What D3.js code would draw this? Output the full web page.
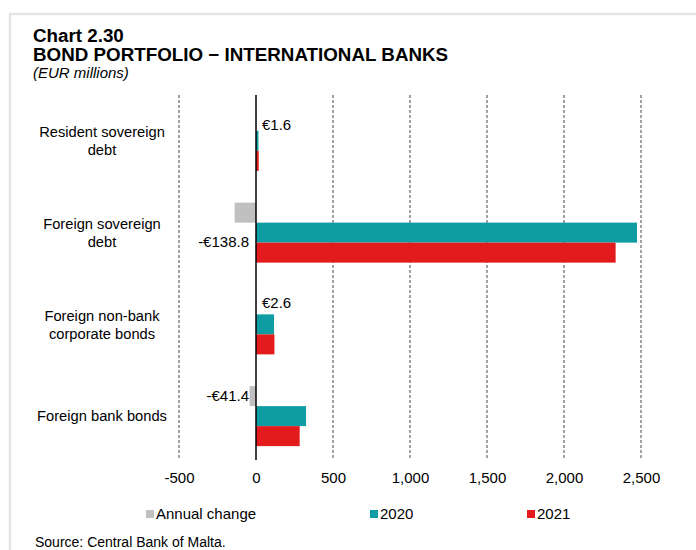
<!DOCTYPE html>
<html>
<head>
<meta charset="utf-8">
<script src="https://cdn.jsdelivr.net/npm/d3@7"></script>
<style>
  html, body { margin: 0; padding: 0; background: #fff; }
  svg { display: block; font-family: "Liberation Sans", Arial, sans-serif; }
</style>
</head>
<body>
<svg id="chart" width="696" height="550"></svg>
<script>
const categories = [
  ["Resident sovereign", "debt"],
  ["Foreign sovereign", "debt"],
  ["Foreign non-bank", "corporate bonds"],
  ["Foreign bank bonds"]
];
const seriesNames = ["Annual change", "2020", "2021"];
const annualChange = [1.6, -138.8, 2.6, -41.4];
const values2020 = [16, 2474, 117, 325];
const values2021 = [17.6, 2335.2, 119.6, 283.6];
const changeLabels = ["€1.6", "-€138.8", "€2.6", "-€41.4"];
const tickValues = [-500, 0, 500, 1000, 1500, 2000, 2500];
const colors = ["#c0c0c0", "#0f9ca3", "#e31b1c"];

const svg = d3.select("#chart");
const catKeys = categories.map(c => c.join(" "));
const series = [annualChange, values2020, values2021];

// frame
svg.append("path")
  .attr("d", "M10,560 L10,14 L700,14")
  .attr("fill", "none").attr("stroke", "#e6e6e6").attr("stroke-width", 2.5);

// titles
svg.append("text").attr("x", 33).attr("y", 42).attr("font-size", 18.8).attr("font-weight", "bold").text("Chart 2.30");
svg.append("text").attr("x", 33).attr("y", 61).attr("font-size", 18.8).attr("font-weight", "bold").text("BOND PORTFOLIO − INTERNATIONAL BANKS");
svg.append("text").attr("x", 33).attr("y", 78).attr("font-size", 15).attr("font-style", "italic").text("(EUR millions)");

const x = d3.scaleLinear().domain([-500, 2500]).range([179, 641]);
const y = d3.scaleBand().domain(catKeys).range([95, 462]).paddingInner(0.346).paddingOuter(0.173);
const ySub = d3.scaleBand().domain(seriesNames).range([0, y.bandwidth()]);

// gridlines
const gridTop = 95, gridBottom = 460;
svg.append("g").selectAll("line").data(tickValues.filter(t => t !== 0)).join("line")
  .attr("x1", d => x(d)).attr("x2", d => x(d))
  .attr("y1", gridTop).attr("y2", gridBottom)
  .attr("stroke", "#444").attr("stroke-width", 1).attr("stroke-dasharray", "3,2");

// bars
const barG = svg.append("g");
series.forEach((vals, si) => {
  barG.selectAll(null).data(vals).join("rect")
    .attr("x", d => x(Math.min(0, d)))
    .attr("width", d => Math.abs(x(d) - x(0)))
    .attr("y", (d, i) => y(catKeys[i]) + ySub(seriesNames[si]))
    .attr("height", ySub.bandwidth())
    .attr("fill", colors[si]);
});

// zero line
svg.append("line").attr("x1", x(0)).attr("x2", x(0)).attr("y1", gridTop).attr("y2", gridBottom)
  .attr("stroke", "#000").attr("stroke-width", 1.5);

// change labels
const labelDy = [4, 29, -2, 0];
svg.append("g").selectAll("text").data(annualChange).join("text")
  .attr("x", d => d >= 0 ? x(0) + 6 : x(0) - 7)
  .attr("y", (d, i) => y(catKeys[i]) + ySub("Annual change") + ySub.bandwidth() / 2 + labelDy[i])
  .attr("dy", "0.35em")
  .attr("text-anchor", d => d >= 0 ? "start" : "end")
  .attr("font-size", 15)
  .text((d, i) => changeLabels[i]);

// category labels
const catG = svg.append("g");
categories.forEach((lines, i) => {
  const cy = y(catKeys[i]) + y.bandwidth() / 2;
  const t = catG.append("text").attr("text-anchor", "middle").attr("font-size", 14.7);
  lines.forEach((ln, j) => {
    t.append("tspan").attr("x", 102)
      .attr("y", cy + (j - (lines.length - 1) / 2) * 18)
      .attr("dy", "0.35em").text(ln);
  });
});

// x axis labels
const axis = d3.axisBottom(x).tickValues(tickValues).tickSize(0).tickPadding(0)
  .tickFormat(d => d3.format(",")(d).replace("−", "-"));
const ax = svg.append("g").attr("transform", "translate(0,472)").call(axis);
ax.select(".domain").remove();
ax.selectAll("text").attr("font-size", 15).attr("font-family", "Liberation Sans, Arial, sans-serif").attr("fill", "#000");

// legend
const legendX = [146, 370, 527];
seriesNames.forEach((s, i) => {
  svg.append("rect").attr("x", legendX[i]).attr("y", 510).attr("width", 8).attr("height", 8).attr("fill", colors[i]);
  svg.append("text").attr("x", legendX[i] + 10).attr("y", 514).attr("dy", "0.35em").attr("font-size", 15).text(s);
});

// source
svg.append("text").attr("x", 35).attr("y", 547).attr("font-size", 14).text("Source: Central Bank of Malta.");
</script>
</body>
</html>
